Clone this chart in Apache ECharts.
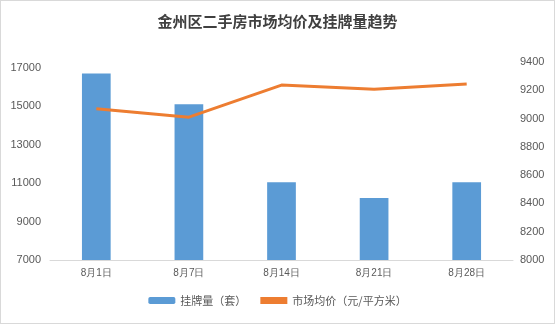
<!DOCTYPE html>
<html><head><meta charset="utf-8">
<script src="https://cdn.jsdelivr.net/npm/echarts@6/dist/echarts.min.js"></script>
<style>html,body{margin:0;padding:0;background:#fff}#c{width:553px;height:322px;border:1px solid #d9d9d9}</style>
</head><body><div id="c"></div>
<script>
var categories = ['8月1日','8月7日','8月14日','8月21日','8月28日'];
var listings = [16700, 15100, 11050, 10230, 11050];
var avgPrice = [9070, 9010, 9237, 9207, 9245];
var seriesNames = ['挂牌量（套）','市场均价（元/平方米）'];
var titleText = '金州区二手房市场均价及挂牌量趋势';

var plain = function(v){ return String(v); };
var chart = echarts.init(document.getElementById('c'));
chart.setOption({
  animation:false,
  title:{text:titleText,left:'center',top:8,textStyle:{fontFamily:'Noto Sans CJK SC',fontSize:15,fontWeight:'bold',color:'#404040'}},
  legend:{bottom:12,left:'center',itemGap:14,itemWidth:27,itemHeight:7,
    textStyle:{fontFamily:'Noto Sans CJK SC',fontSize:11,color:'#595959'},
    data:[{name:seriesNames[0]},{name:seriesNames[1],icon:'rect',itemStyle:{color:'#ED7D31'}}]},
  grid:{left:49,right:41,top:61,bottom:63},
  xAxis:{type:'category',data:categories,
    axisLine:{lineStyle:{color:'#d9d9d9',width:1}},axisTick:{show:false},
    axisLabel:{fontFamily:'Liberation Sans',fontSize:10,color:'#595959',margin:8}},
  yAxis:[
    {type:'value',min:7000,max:17300,interval:2000,splitLine:{show:false},axisLine:{show:false},axisTick:{show:false},
     axisLabel:{showMaxLabel:false,formatter:plain,fontFamily:'Liberation Sans',fontSize:11,color:'#595959',margin:9}},
    {type:'value',min:8000,max:9400,interval:200,splitLine:{show:false},axisLine:{show:false},axisTick:{show:false},
     axisLabel:{formatter:plain,fontFamily:'Liberation Sans',fontSize:11,color:'#595959',margin:7}}
  ],
  series:[
    {name:seriesNames[0],type:'bar',data:listings,barWidth:'31%',itemStyle:{color:'#5B9BD5'}},
    {name:seriesNames[1],type:'line',yAxisIndex:1,data:avgPrice,symbol:'none',lineStyle:{color:'#ED7D31',width:3},itemStyle:{color:'#ED7D31'}}
  ]
});
</script></body></html>
